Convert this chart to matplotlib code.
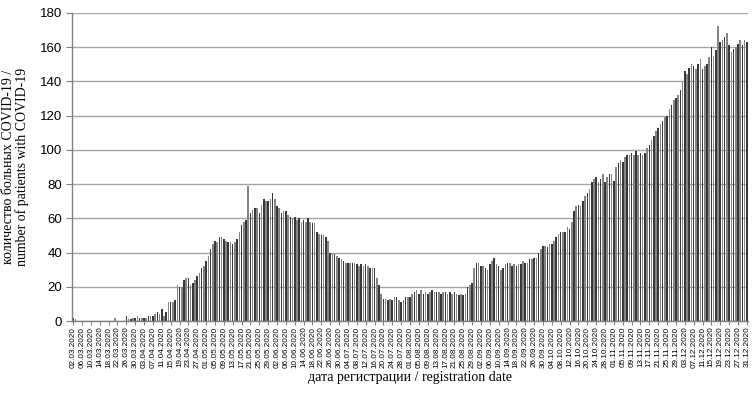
import numpy as np
import pandas as pd
import matplotlib
matplotlib.use('Agg')
import matplotlib.pyplot as plt

# daily counts, 02.03.2020 - 31.12.2020
march = [2, 1, 0, 0, 0, 0, 0, 0, 0, 0, 0, 0, 0, 0, 0, 0, 0, 0, 0, 2,
         0, 0, 0, 0, 3, 1, 1, 2, 2, 3]
april = [2, 2, 2, 2, 3, 3, 3, 4, 5, 4, 7, 3, 5, 11, 11, 11, 12, 21, 20, 20,
         24, 25, 25, 21, 22, 24, 26, 28, 31, 32]
may = [35, 38, 42, 45, 47, 46, 49, 49, 48, 47, 46, 46, 45, 46, 48, 52, 56, 58, 59, 79,
       63, 65, 66, 66, 63, 68, 71, 70, 70, 71, 75]
june = [71, 67, 66, 63, 64, 64, 62, 61, 60, 61, 59, 60, 58, 59, 58, 60, 58, 57, 57, 52,
        51, 50, 50, 49, 47, 40, 40, 39, 38, 37]
july = [36, 35, 34, 34, 34, 34, 34, 33, 32, 33, 32, 33, 32, 31, 31, 31, 25, 21, 16, 13,
        13, 12, 13, 12, 14, 14, 12, 11, 12, 14, 14]
august = [14, 16, 17, 18, 16, 18, 16, 17, 16, 17, 18, 17, 17, 17, 16, 17, 17, 16, 17, 16,
          17, 16, 15, 16, 15, 16, 20, 21, 22, 31, 34]
september = [34, 32, 32, 31, 30, 33, 35, 37, 33, 32, 30, 31, 33, 34, 34, 32, 33, 32, 33, 33,
             35, 34, 34, 36, 36, 37, 37, 40, 42, 44]
october = [44, 43, 45, 45, 47, 49, 51, 52, 52, 52, 55, 54, 58, 64, 67, 68, 67, 70, 73, 75,
           77, 81, 83, 84, 81, 83, 86, 81, 84, 86, 86]
november = [82, 90, 92, 94, 93, 96, 97, 97, 98, 97, 99, 97, 98, 97, 98, 101, 103, 106, 108, 111,
            113, 115, 117, 119, 120, 124, 126, 129, 130, 132]
december = [135, 140, 146, 144, 148, 150, 149, 147, 150, 153, 147, 149, 150, 154, 160, 155, 158, 172, 163, 164,
            166, 168, 161, 157, 159, 160, 162, 164, 161, 164, 163]

values = march + april + may + june + july + august + september + october + november + december
dates = pd.date_range('2020-03-02', '2020-12-31', freq='D')
date_labels = [d.strftime('%d.%m.%Y') for d in dates]

x = np.arange(len(values))

fig = plt.figure(figsize=(7.55, 4.05), dpi=100)
ax = fig.add_axes([0.0954, 0.2074, 0.8953, 0.761])

colors = ['#383838' if i % 2 == 0 else '#858585' for i in x]
ax.bar(x, values, width=0.7, color=colors, linewidth=0, zorder=2)

ax.set_xlim(-0.5, len(values) - 0.5)
ax.set_ylim(0, 180)
ax.set_yticks(np.arange(0, 181, 20))
ax.yaxis.grid(True, color='#a6a6a6', linewidth=1.0, zorder=0)
ax.set_axisbelow(True)

ticks = x[::4]
ax.set_xticks(ticks)
ax.set_xticklabels([date_labels[i] for i in ticks], rotation=90,
                   fontsize=5.9, family='Liberation Sans')
ax.tick_params(axis='x', length=3, color='#808080', pad=1)
ax.tick_params(axis='y', length=4, color='#808080', labelsize=9.5, pad=3)
for lab in ax.get_yticklabels():
    lab.set_family('Liberation Sans')

for s in ['top', 'right']:
    ax.spines[s].set_visible(False)
for s in ['left', 'bottom']:
    ax.spines[s].set_color('#808080')
    ax.spines[s].set_linewidth(1.0)

ax.set_ylabel('количество больных COVID-19 /\nnumber of patients with COVID-19',
              family='Liberation Serif', fontsize=10, labelpad=8, linespacing=1.0)
ax.set_xlabel('дата регистрации / registration date', family='Liberation Serif',
              fontsize=10, labelpad=2)

fig.savefig('out.png', dpi=100)
